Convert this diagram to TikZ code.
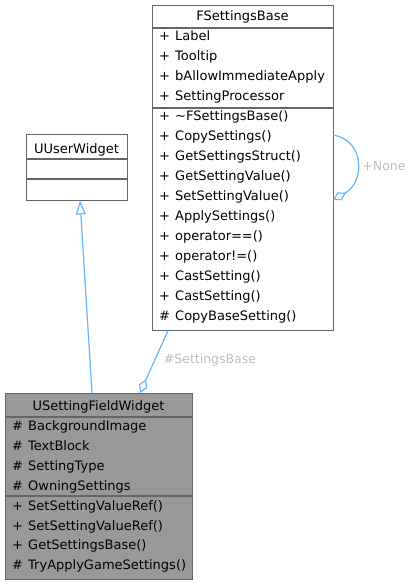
\documentclass[tikz,border=0pt]{standalone}
\usepackage{fontspec}
\setmainfont{DejaVu Sans}
\usetikzlibrary{arrows.meta}
\definecolor{edgeblue}{HTML}{63B8FF}
\definecolor{boxgray}{HTML}{666666}
\definecolor{fillgray}{HTML}{999999}
\definecolor{labelgray}{HTML}{BEBEBE}
\newcommand{\mem}[2]{\makebox[16pt][l]{#1}#2}
\begin{document}
\begin{tikzpicture}[x=1pt,y=-1pt,
  classbox/.style={draw=boxgray, line width=1.3pt, fill=white, anchor=north west, inner sep=0pt},
  member/.style={anchor=base west, inner sep=0pt, font=\fontsize{13}{15}\selectfont},
  classtitle/.style={anchor=base, inner sep=0pt, font=\fontsize{13}{15}\selectfont},
  sepline/.style={draw=boxgray, line width=1.3pt},
  edge/.style={draw=edgeblue, line width=1.2pt},
  edgelabel/.style={text=labelgray, inner sep=0pt, font=\fontsize{12.5}{14}\selectfont}]
\useasboundingbox (0,0) rectangle (412,584);

% Class boxes
\node[classbox, minimum width=181pt, minimum height=325pt] (fsb) at (152,5) {};
\node[classbox, minimum width=101pt, minimum height=66pt] (uuw) at (26,134) {};
\node[classbox, fill=fillgray, minimum width=187pt, minimum height=186pt] (usfw) at (5,393) {};

% Compartment lines
\draw[sepline] (152,28) -- (333,28);
\draw[sepline] (152,108) -- (333,108);
\draw[sepline] (26,159) -- (127,159);
\draw[sepline] (26,179) -- (127,179);
\draw[sepline] (5,417) -- (192,417);
\draw[sepline] (5,496) -- (192,496);

% Titles
\node[classtitle] (fsb-title) at (242.5,20.7) {FSettingsBase};
\node[classtitle] (uuw-title) at (76.5,153) {UUserWidget};
\node[classtitle] (usfw-title) at (98.5,410.7) {USettingFieldWidget};

% FSettingsBase attributes
\node[member] (fsb-a1) at (159,40.7) {\mem{+}{Label}};
\node[member] (fsb-a2) at (159,60.6) {\mem{+}{Tooltip}};
\node[member] (fsb-a3) at (159,80.6) {\mem{+}{bAllowImmediateApply}};
\node[member] (fsb-a4) at (159,100.5) {\mem{+}{SettingProcessor}};

% FSettingsBase methods
\node[member] (fsb-m1) at (159,120.5) {\mem{+}{\textasciitilde FSettingsBase()}};
\node[member] (fsb-m2) at (159,140.5) {\mem{+}{CopySettings()}};
\node[member] (fsb-m3) at (159,160.4) {\mem{+}{GetSettingsStruct()}};
\node[member] (fsb-m4) at (159,180.4) {\mem{+}{GetSettingValue()}};
\node[member] (fsb-m5) at (159,200.3) {\mem{+}{SetSettingValue()}};
\node[member] (fsb-m6) at (159,220.3) {\mem{+}{ApplySettings()}};
\node[member] (fsb-m7) at (159,240.2) {\mem{+}{operator==()}};
\node[member] (fsb-m8) at (159,260.2) {\mem{+}{operator!=()}};
\node[member] (fsb-m9) at (159,280.1) {\mem{+}{CastSetting()}};
\node[member] (fsb-m10) at (159,300.1) {\mem{+}{CastSetting()}};
\node[member] (fsb-m11) at (159,320) {\mem{\#}{CopyBaseSetting()}};

% USettingFieldWidget attributes
\node[member] (usfw-a1) at (12,430.5) {\mem{\#}{BackgroundImage}};
\node[member] (usfw-a2) at (12,450.4) {\mem{\#}{TextBlock}};
\node[member] (usfw-a3) at (12,470.3) {\mem{\#}{SettingType}};
\node[member] (usfw-a4) at (12,490.2) {\mem{\#}{OwningSettings}};

% USettingFieldWidget methods
\node[member] (usfw-m1) at (12,510.1) {\mem{+}{SetSettingValueRef()}};
\node[member] (usfw-m2) at (12,530) {\mem{+}{SetSettingValueRef()}};
\node[member] (usfw-m3) at (12,549.9) {\mem{+}{GetSettingsBase()}};
\node[member] (usfw-m4) at (12,569.8) {\mem{\#}{TryApplyGameSettings()}};

% Connector ends
\coordinate (usfw-inh) at (92,393);
\coordinate (uuw-inh) at (80,200.5);
\coordinate (usfw-agg) at (140,393);
\coordinate (fsb-agg) at (168,330.5);
\coordinate (fsb-loopin) at (333,200);
\coordinate (fsb-loopout) at (333,135);

% Inheritance
\draw[edge, -{Triangle[open, length=14pt, width=10pt]}] (usfw-inh) -- (uuw-inh);

% Aggregation
\draw[edge, {Diamond[open, length=15pt, width=9pt]}-] (usfw-agg) -- (fsb-agg);
\node[edgelabel] (agg-label) at (210,360) {\#SettingsBase};

% Self aggregation
\draw[edge, {Diamond[open, length=15pt, width=9pt]}-] (fsb-loopin) .. controls (365,182) and (365,140) .. (fsb-loopout);
\node[edgelabel] (loop-label) at (384,166) {+None};

\end{tikzpicture}
\end{document}
